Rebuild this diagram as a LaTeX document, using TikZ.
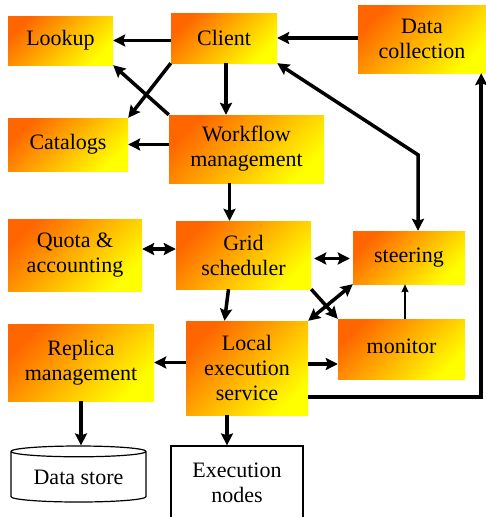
\documentclass[tikz,border=0pt]{standalone}
\usepackage{fontspec}
\setmainfont{Liberation Serif}
\usetikzlibrary{shapes.geometric,arrows.meta,positioning}
\definecolor{boxorange}{RGB}{255,102,0}
\definecolor{boxyellow}{RGB}{255,255,0}
\tikzstyle{block} = [rectangle,inner sep=0pt,text centered,align=center,top color=boxorange,bottom color=boxyellow,shading angle=45]
\tikzstyle{store} = [cylinder,shape border rotate=90,aspect=0.12,draw=black,line width=1.2pt,fill=white,inner sep=0pt,minimum width=135pt,minimum height=56pt,text centered]
\tikzstyle{plain} = [rectangle,draw=black,line width=1.2pt,fill=white,align=center,text centered]
\tikzstyle{arr} = [line width=3.5pt,-{Stealth[length=12pt,width=12pt,inset=2pt]}]
\tikzstyle{darr} = [line width=3.5pt,{Stealth[length=12pt,width=12pt,inset=2pt]}-{Stealth[length=12pt,width=12pt,inset=2pt]}]
\tikzstyle{thin} = [line width=1.5pt,-{Stealth[length=8pt,width=7pt,inset=1pt]}]

\begin{document}
\begin{tikzpicture}[x=1pt,y=1pt,node distance=100pt,font=\fontsize{22}{25}\selectfont]
    \useasboundingbox (0,0) rectangle (486,-517);

    % Top row
    \node[block,minimum width=105pt,minimum height=49pt] (lookup) at (60.5,-40.5) {Lookup};
    \node[block,right of=lookup,xshift=63.5pt,yshift=2.5pt,minimum width=106pt,minimum height=50pt] (client) {Client};
    \node[block,right of=client,xshift=98pt,yshift=-1pt,minimum width=128pt,minimum height=68pt] (data) {Data\\collection};

    % Middle rows
    \node[block,below of=lookup,xshift=7.5pt,yshift=-4pt,minimum width=120pt,minimum height=53pt] (catalogs) {Catalogs};
    \node[block,below of=client,xshift=22.5pt,yshift=-11pt,minimum width=155pt,minimum height=68pt] (workflow) {Workflow\\management};
    \node[block,below of=workflow,xshift=-3pt,yshift=-6pt,minimum width=135pt,minimum height=68pt] (grid) {Grid\\scheduler};
    \node[block,left of=grid,xshift=-68.5pt,minimum width=134pt,minimum height=72pt] (quota) {Quota \&\\accounting};
    \node[block,right of=grid,xshift=65.5pt,yshift=-2.5pt,minimum width=112pt,minimum height=53pt] (steering) {steering};

    % Execution row
    \node[block,below of=grid,xshift=3.5pt,yshift=-13pt,minimum width=122pt,minimum height=94pt] (local) {Local\\execution\\service};
    \node[block,left of=local,xshift=-66pt,yshift=5.5pt,minimum width=146pt,minimum height=77pt] (replica) {Replica\\management};
    \node[block,right of=local,xshift=54.5pt,yshift=19pt,minimum width=127pt,minimum height=60pt] (monitor) {\raisebox{5pt}{monitor}};

    % Bottom
    \node[store,below of=replica,xshift=-2.5pt,yshift=-14.5pt] (datastore) {Data store};
    \node[plain,below of=local,xshift=-10pt,yshift=-15pt,minimum width=132pt,minimum height=74pt] (exec) {Execution\\nodes};

    % arrow
    \draw[arr] (client.west |- lookup.east) -- (lookup.east);
    \draw[arr] (data.west |- client.east) -- (client.east);
    \draw[arr] ([xshift=2pt]client.south) -- ([xshift=2pt]client.south |- workflow.north);
    \draw[arr] (client.south west) -- (catalogs.north east);
    \draw[arr] (workflow.north west) -- (lookup.south east);
    \draw[arr] (workflow.west |- catalogs.east) -- (catalogs.east);
    \draw[arr] ([xshift=-17pt]workflow.south) -- ([xshift=-17pt]workflow.south |- grid.north);
    \draw[darr] ([yshift=6pt]quota.east) -- ([yshift=6pt]quota.east -| grid.west);
    \draw[darr,shorten <=3pt,shorten >=3pt] ([yshift=-3.5pt]grid.east) -- ([yshift=-3.5pt]grid.east -| steering.west);
    \draw[arr] (grid.south east) -- (monitor.north west);
    \draw[darr] (local.north east) -- (steering.south west);
    \draw[thin] ([xshift=3.5pt]monitor.north) -- ([xshift=3.5pt]monitor.north |- steering.south);
    \draw[darr] ([xshift=9pt]steering.north) -- ++(0,76) -- (client.south east);
    \draw[arr] ([xshift=-15pt]grid.south) -- ([xshift=-19pt]grid.south |- local.north);
    \draw[arr] (local.west |- replica.east) -- (replica.east);
    \draw[arr] ([yshift=4pt]local.east) -- ([yshift=4pt]local.east -| monitor.west);
    \draw[arr] ([xshift=-20pt]local.south) -- ([xshift=-20pt]local.south |- exec.north);
    \draw[arr] (replica.south) -- (replica.south |- datastore.north);
    \draw[arr] ([yshift=-29pt]local.east) -| ([xshift=-5pt]data.south east);
\end{tikzpicture}
\end{document}
